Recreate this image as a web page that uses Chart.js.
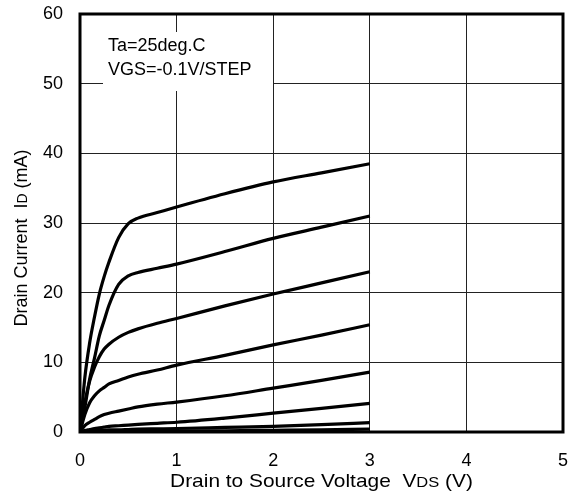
<!DOCTYPE html>
<html>
<head>
<meta charset="utf-8">
<script src="https://cdn.jsdelivr.net/npm/chart.js@4"></script>
<style>
  html, body { margin: 0; padding: 0; background: #fff; }
</style>
</head>
<body>
<canvas id="idvds" width="575" height="501"></canvas>
<script>
"use strict"

// drain to source voltage (V), shared by every curve
const vds = [0, 0.05, 0.1, 0.15, 0.2, 0.25, 0.3, 0.4, 0.5, 0.6, 0.8, 1, 1.5, 2, 2.5, 3]

// drain current (mA), one curve per VGS step (-0.1V/step)
const id1 = [0, 7.8, 12.8, 16.5, 19.8, 22.3, 24.4, 27.9, 29.9, 30.7, 31.5, 32.3, 34.2, 35.9, 37.2, 38.5]
const id2 = [0, 3.5, 7.6, 10.6, 13.8, 16.0, 18.2, 21.2, 22.4, 22.9, 23.5, 24.1, 25.9, 27.8, 29.4, 31.0]
const id3 = [0, 4.2, 7.3, 9.3, 10.8, 11.9, 12.6, 13.6, 14.3, 14.8, 15.6, 16.3, 18.1, 19.8, 21.4, 23.0]
const id4 = [0, 2.5, 4.2, 5.2, 5.9, 6.4, 6.9, 7.4, 7.9, 8.3, 8.9, 9.6, 11.0, 12.5, 13.9, 15.4]
const id5 = [0, 0.9, 1.4, 1.8, 2.2, 2.5, 2.7, 3.0, 3.3, 3.6, 4.0, 4.3, 5.2, 6.3, 7.4, 8.6]
const id6 = [0, 0.2, 0.35, 0.5, 0.6, 0.7, 0.8, 0.9, 1.0, 1.1, 1.25, 1.4, 2.0, 2.7, 3.4, 4.1]
const id7 = [0, 0.1, 0.15, 0.2, 0.25, 0.25, 0.3, 0.3, 0.35, 0.4, 0.45, 0.5, 0.65, 0.8, 1.05, 1.35]
const id8 = [0, 0.02, 0.04, 0.05, 0.06, 0.07, 0.08, 0.09, 0.1, 0.1, 0.11, 0.12, 0.18, 0.25, 0.32, 0.4]

const curves = [id1, id2, id3, id4, id5, id6, id7, id8]

const xTicks = [0, 1, 2, 3, 4, 5]
const yTicks = [0, 10, 20, 30, 40, 50, 60]

const noteLines = ["Ta=25deg.C", "VGS=-0.1V/STEP"]

const FONT = "'Liberation Sans', Arial, sans-serif"

// draws a run of [text, sizePx] pieces on one baseline, centred on (0,0)
function drawPieces(ctx, pieces, stretch) {
    let total = 0
    pieces.forEach(p => {
        ctx.font = p[1] + "px " + FONT
        total += ctx.measureText(p[0]).width
    })
    ctx.scale(stretch, 1)
    let x = -total / 2
    pieces.forEach(p => {
        ctx.font = p[1] + "px " + FONT
        ctx.fillText(p[0], x, 0)
        x += ctx.measureText(p[0]).width
    })
}

// white note box, frame and axis titles
const decorPlugin = {
    id: "decor",
    beforeDatasetsDraw(chart) {
        const ctx = chart.ctx
        const a = chart.chartArea
        ctx.save()
        ctx.fillStyle = "#fff"
        ctx.fillRect(a.left + 23, a.top + 18, 170, 59)
        ctx.fillStyle = "#000"
        ctx.font = "18px " + FONT
        ctx.textBaseline = "middle"
        ctx.fillText(noteLines[0], a.left + 28, a.top + 32)
        ctx.fillText(noteLines[1], a.left + 28, a.top + 56)
        ctx.restore()
    },
    afterDraw(chart) {
        const ctx = chart.ctx
        const a = chart.chartArea
        ctx.save()
        ctx.strokeStyle = "#000"
        ctx.lineWidth = 3
        ctx.strokeRect(a.left, a.top, a.right - a.left, a.bottom - a.top)

        ctx.fillStyle = "#000"
        ctx.textBaseline = "alphabetic"
        // x title
        ctx.save()
        ctx.translate((a.left + a.right) / 2, 487)
        drawPieces(ctx, [["Drain to Source Voltage  V", 19], ["DS", 15], [" (V)", 19]], 1.1)
        ctx.restore()
        // y title
        ctx.save()
        ctx.translate(27, (a.top + a.bottom) / 2 + 15)
        ctx.rotate(-Math.PI / 2)
        drawPieces(ctx, [["Drain Current  I", 18], ["D", 14], [" (mA)", 18]], 1)
        ctx.restore()
        ctx.restore()
    }
}

const ctx = document.getElementById("idvds")

new Chart(ctx, {
    type: "line",
    data: {
        datasets: curves.map(c => ({
            data: vds.map((v, i) => ({ x: v, y: c[i] })),
            borderColor: "#000",
            backgroundColor: "#000",
            borderWidth: 3.2,
            pointRadius: 0,
            cubicInterpolationMode: "monotone",
            fill: false
        }))
    },
    options: {
        responsive: false,
        animation: false,
        devicePixelRatio: 1,
        layout: { padding: { left: 0, right: 12, top: 14, bottom: 0 } },
        plugins: {
            legend: { display: false },
            tooltip: { enabled: false }
        },
        scales: {
            x: {
                type: "linear",
                min: 0,
                max: 5,
                afterBuildTicks: s => { s.ticks = xTicks.map(v => ({ value: v })) },
                afterFit: s => {
                    s.height = 69
                    s.paddingLeft = 0
                    s.paddingRight = 0
                },
                grid: { color: "#222", lineWidth: 1, drawTicks: false },
                border: { display: false },
                ticks: {
                    color: "#000",
                    padding: 18,
                    font: { family: FONT, size: 18 }
                }
            },
            y: {
                min: 0,
                max: 60,
                afterBuildTicks: s => { s.ticks = yTicks.map(v => ({ value: v })) },
                afterFit: s => {
                    s.width = 80
                    s.paddingTop = 0
                    s.paddingBottom = 0
                },
                grid: { color: "#222", lineWidth: 1, drawTicks: false },
                border: { display: false },
                ticks: {
                    color: "#000",
                    padding: 17,
                    font: { family: FONT, size: 18 }
                }
            }
        }
    },
    plugins: [decorPlugin]
})
</script>
</body>
</html>
